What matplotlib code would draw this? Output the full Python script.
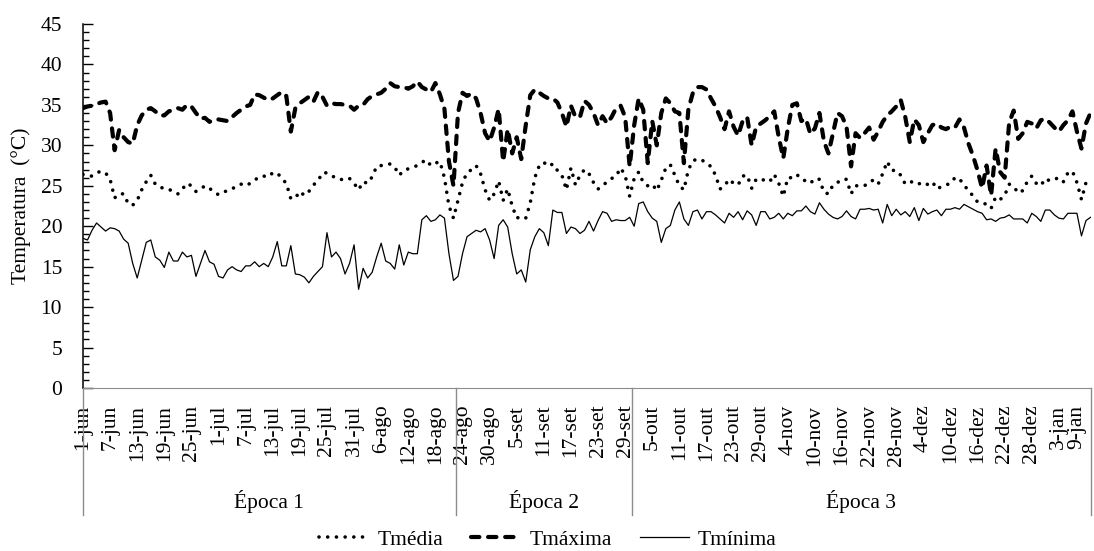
import pandas as pd
import matplotlib
matplotlib.use("Agg")
import matplotlib.pyplot as plt

plt.rcParams['font.family'] = ['Liberation Serif', 'DejaVu Serif']
plt.rcParams['font.size'] = 15.5

# daily series, 1-jun to 10-jan
t_min = [
    18.5, 18.3, 19.5, 20.4, 19.9, 19.4, 19.8, 19.7, 19.4, 18.4,
    17.9, 15.4, 13.6, 15.8, 18.0, 18.3, 16.2, 15.8, 14.9, 16.8,
    15.7, 15.7, 16.8, 16.2, 16.4, 13.8, 15.4, 17.0, 15.6, 15.3,
    13.8, 13.6, 14.6, 15.0, 14.6, 14.4, 15.1, 15.1, 15.6, 15.0,
    15.4, 15.0, 16.2, 18.1, 15.1, 15.1, 17.6, 14.1, 14.0, 13.7,
    13.0, 13.8, 14.4, 15.0, 19.2, 16.2, 16.8, 16.0, 14.1, 15.4,
    17.7, 12.2, 14.8, 13.6, 14.3, 16.2, 17.9, 15.7, 15.4, 14.7,
    17.7, 15.2, 16.8, 16.6, 16.6, 20.8, 21.3, 20.6, 20.8, 21.4,
    21.0, 16.6, 13.3, 13.8, 16.6, 18.7, 19.1, 19.5, 19.3, 19.7,
    18.3, 16.0, 20.1, 20.8, 19.9, 16.6, 14.1, 14.6, 13.1, 17.1,
    18.7, 19.7, 19.2, 17.6, 22.0, 21.7, 21.7, 19.1, 19.9, 19.7,
    19.1, 19.5, 20.6, 19.4, 20.7, 21.8, 21.6, 20.6, 20.8, 20.7,
    20.7, 21.1, 20.0, 22.8, 23.0, 21.8, 21.0, 20.6, 18.0, 19.7,
    20.1, 22.0, 23.0, 20.9, 20.1, 21.8, 22.0, 20.9, 21.8, 21.8,
    21.4, 20.9, 20.4, 21.6, 21.1, 21.8, 20.8, 21.9, 21.4, 20.1,
    21.8, 21.8, 20.9, 21.1, 21.6, 20.9, 21.6, 21.3, 21.9, 21.9,
    22.5, 21.8, 21.5, 22.9, 22.1, 21.5, 21.1, 20.9, 21.2, 21.9,
    21.2, 20.9, 22.1, 22.1, 22.2, 22.0, 22.1, 20.4, 22.7, 21.3,
    22.1, 21.4, 21.8, 21.2, 22.3, 20.7, 22.2, 21.5, 21.8, 22.0,
    21.3, 22.1, 22.1, 22.3, 22.1, 22.7, 22.4, 22.1, 21.8, 21.6,
    20.8, 20.9, 20.6, 21.0, 21.1, 21.4, 20.9, 20.9, 20.9, 20.4,
    21.6, 21.2, 20.6, 22.0, 22.0, 21.4, 21.0, 20.9, 21.6, 21.6,
    21.6, 18.8, 20.7, 21.1,
]

t_media = [
    26.4, 26.2, 26.2, 26.6, 26.8, 26.6, 25.8, 23.5, 24.0, 24.0,
    22.8, 22.6, 23.2, 24.5, 25.5, 26.3, 25.2, 24.8, 24.7, 24.6,
    24.2, 24.0, 24.6, 25.3, 25.0, 24.3, 24.6, 25.0, 24.7, 24.2,
    23.9, 24.2, 24.4, 24.6, 25.0, 25.2, 25.0, 25.3, 25.7, 26.1,
    26.2, 26.1, 26.6, 26.6, 25.9, 25.3, 23.4, 23.5, 24.3, 23.8,
    24.3, 25.1, 25.6, 26.6, 26.6, 26.3, 25.9, 25.8, 25.7, 25.9,
    25.3, 24.5, 25.5, 25.3, 26.1, 27.4, 27.5, 27.6, 27.7, 27.3,
    26.3, 26.9, 27.1, 27.3, 27.5, 27.9, 28.2, 27.5, 27.8, 28.0,
    26.0, 22.5, 21.0, 23.2, 25.4, 26.6, 27.0, 27.5, 26.5, 24.5,
    23.2, 24.0, 25.6, 23.2, 24.6, 22.5, 21.0, 21.2, 21.0, 22.9,
    26.0, 27.5, 27.9, 27.4, 27.7, 26.9, 26.3, 24.5, 27.2, 25.1,
    26.3, 27.0, 26.5, 25.4, 24.6, 25.0, 25.5, 25.9, 26.2, 27.2,
    26.3, 23.7, 25.9, 26.7, 25.4, 25.0, 25.2, 24.4, 25.7, 27.2,
    27.6, 26.3, 25.0, 24.5, 27.0, 28.1, 28.3, 28.2, 27.7, 27.4,
    26.3, 24.6, 25.0, 25.8, 25.3, 25.1, 26.2, 26.3, 24.7, 25.8,
    25.9, 25.6, 25.5, 26.4, 25.3, 23.7, 26.0, 26.0, 26.4, 25.8,
    25.6, 25.3, 25.9, 25.8, 24.2, 24.0, 25.1, 25.4, 25.8, 25.8,
    24.0, 25.0, 25.0, 25.0, 25.5, 25.7, 25.2, 26.5, 28.0, 26.9,
    26.9, 26.3, 25.2, 25.4, 25.6, 25.3, 25.0, 25.2, 25.5, 24.6,
    24.9, 25.1, 25.3, 26.0, 25.9, 25.0, 24.5, 23.7, 23.0, 22.9,
    22.7, 22.2, 23.6, 23.3, 23.8, 25.2, 24.9, 24.1, 24.4, 25.5,
    26.2, 25.3, 25.0, 25.9, 25.6, 25.8, 26.0, 25.5, 26.6, 26.8,
    25.4, 23.3, 25.4, 25.7,
]

t_max = [
    34.6, 34.8, 34.9, 35.1, 35.3, 35.4, 34.0, 29.4, 31.9, 31.0,
    30.4, 30.2, 32.5, 33.7, 34.4, 34.6, 34.2, 33.7, 33.7, 34.2,
    34.4, 34.6, 34.4, 35.0, 34.8, 34.0, 33.3, 33.4, 32.9, 33.2,
    33.2, 33.1, 33.0, 33.5, 34.0, 34.4, 34.8, 35.0, 36.3, 36.2,
    35.9, 35.6, 35.8, 36.2, 36.6, 36.1, 31.7, 34.6, 35.2, 35.6,
    36.0, 35.4, 36.6, 36.0, 34.9, 35.2, 35.1, 35.1, 35.0, 34.9,
    34.4, 34.9, 35.0, 35.7, 36.1, 36.3, 36.5, 37.0, 37.7, 37.3,
    37.2, 37.2, 37.0, 37.3, 37.9, 37.2, 36.9, 36.6, 37.7, 36.3,
    34.5, 28.0, 25.0, 34.0, 36.5, 36.1, 36.4, 35.8, 34.0, 31.5,
    30.5, 32.2, 34.5, 28.0, 32.0, 29.0, 31.0, 28.3, 32.5, 36.2,
    36.9, 36.5, 36.1, 35.8, 35.8, 35.3, 34.0, 32.3, 34.9, 33.5,
    33.5, 35.5, 35.0, 34.0, 32.5, 33.6, 32.7, 33.5, 34.6, 34.9,
    33.5, 27.4, 32.5, 35.8, 34.4, 27.8, 33.0, 30.0, 34.0, 35.8,
    35.2, 34.2, 34.0, 27.8, 34.5, 36.5, 37.2, 37.2, 36.9, 35.8,
    34.8, 33.5, 32.0, 34.2, 32.3, 31.2, 33.0, 33.5, 30.0, 32.3,
    32.7, 33.1, 33.6, 34.2, 31.0, 28.4, 32.1, 35.0, 35.2, 33.0,
    33.3, 31.4, 32.1, 34.0, 30.5, 29.0, 31.5, 34.0, 33.6, 32.3,
    27.4, 31.5, 30.9, 31.5, 32.2, 30.7, 31.7, 32.9, 33.7, 34.2,
    34.8, 35.6, 33.5, 30.4, 33.2, 32.5, 30.4, 31.5, 32.5, 32.7,
    32.2, 32.0, 32.3, 32.2, 33.2, 32.2, 30.2, 28.7, 26.9, 24.7,
    27.5, 23.8, 29.6, 26.7, 26.0, 32.8, 34.3, 30.8, 31.5, 32.9,
    32.7, 32.1, 33.1, 33.3, 32.8, 32.2, 31.7, 32.5, 33.1, 34.2,
    31.7, 29.6, 32.7, 34.0,
]

months_pt = ["jan", "fev", "mar", "abr", "mai", "jun", "jul", "ago", "set", "out", "nov", "dez"]
dates = pd.date_range("2019-06-01", periods=len(t_min), freq="D")
day_labels = [f"{d.day}-{months_pt[d.month - 1]}" for d in dates]

epoca_names = ["Época 1", "Época 2", "Época 3"]
epoca_first_day = ["2019-06-01", "2019-08-23", "2019-10-01"]

x = list(range(len(dates)))
starts = [dates.get_loc(pd.Timestamp(s)) for s in epoca_first_day]
bounds = [starts[0]] + [s - 0.5 for s in starts[1:]] + [len(dates) - 1]

fig = plt.figure(figsize=(10.94, 5.51), dpi=100)
ax = fig.add_axes([83 / 1094, 1 - 388 / 551, 1007.5 / 1094, 364 / 551])

ax.plot(x, t_media, color="black", lw=2.6, ls=(0, (0.01, 2.4)), dash_capstyle="round", label="Tmédia")
ax.plot(x, t_max, color="black", lw=3.0, ls=(0, (2.0, 2.1)), dash_capstyle="round", label="Tmáxima")
ax.plot(x, t_min, color="black", lw=0.9, label="Tmínima")

ax.set_xlim(0, len(dates) - 1)
ax.set_ylim(0, 45)
ax.set_yticks(range(0, 46, 5))
ax.set_yticks(range(0, 46, 1), minor=True)
ax.tick_params(axis="y", which="major", direction="in", length=7, width=1, pad=15)
ax.tick_params(axis="y", which="minor", direction="in", length=4.5, width=1)

tick_idx = x[::6]
ax.set_xticks(tick_idx)
ax.set_xticklabels([day_labels[i] for i in tick_idx], rotation=90, va="top")
ax.tick_params(axis="x", length=0, pad=12)
ax.get_xticklabels()[-1].set_ha("right")

for s in ["top", "right"]:
    ax.spines[s].set_visible(False)
ax.spines["left"].set_linewidth(1.1)
ax.spines["bottom"].set_color("#8c8c8c")

for b in bounds:
    ax.axvline(b, ymin=-0.349, ymax=0, color="#8c8c8c", lw=1, clip_on=False)
for name, a, b in zip(epoca_names, bounds[:-1], bounds[1:]):
    ax.text((a + b) / 2, -0.313, name, transform=ax.get_xaxis_transform(), ha="center", va="center")

ax.set_ylabel("Temperatura  (°C)")
ax.yaxis.set_label_coords(-0.052, 0.5)

fig.legend(loc="center", bbox_to_anchor=(0.501, 0.02), ncol=3, frameon=False,
           handlelength=2.3, handletextpad=0.4, columnspacing=1.3)

fig.savefig("out.png", dpi=100)
